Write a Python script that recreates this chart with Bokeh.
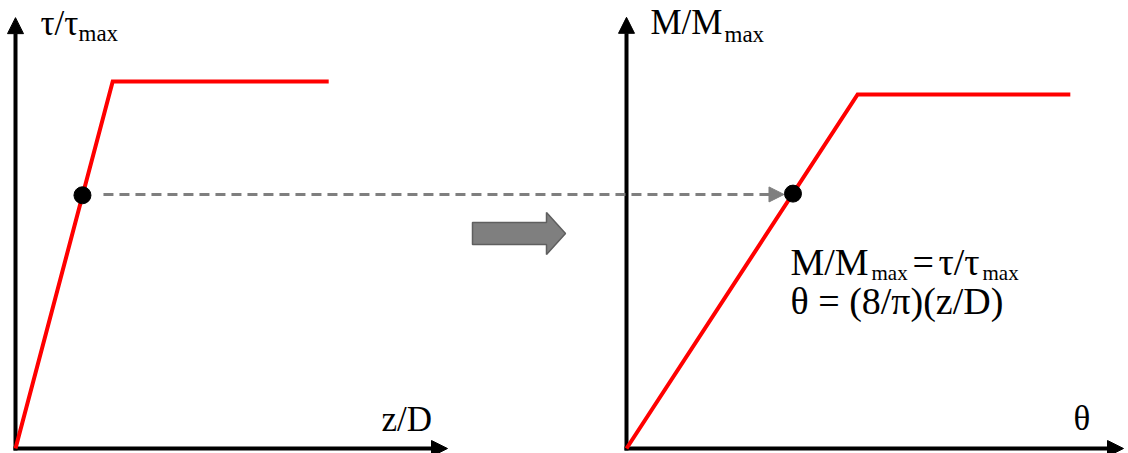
from bokeh.plotting import figure
from bokeh.models import Range1d, Arrow, NormalHead, ColumnDataSource
from bokeh.core.properties import value
from bokeh.embed import file_html
from bokeh.resources import INLINE

# ---- data -------------------------------------------------------------
# shear stress vs. normalised depth (left panel)
z_over_d = [0.0, 0.225, 0.725]
tau_ratio = [0.0, 1.0, 1.0]
# moment vs. rotation (right panel)
theta = [0.0, 0.465, 0.893]
m_ratio = [0.0, 1.0, 1.0]
# the marked point on each curve
z_over_d_pt = [0.155]
tau_ratio_pt = [0.69]
theta_pt = [0.335]
m_ratio_pt = [0.72]
# axis extents
z_axis_max, tau_axis_max = 1.0, 1.174
theta_axis_max, m_axis_max = 1.0, 1.218

# ---- layout -----------------------------------------------------------
W, H = 1128, 453
FONT = "Liberation Serif"
# panel origins (px from left / top) and pixels per data unit
L_OX, L_OY, L_SX, L_SY = 15, 448, 432, 367
R_OX, R_OY, R_SX, R_SY = 626, 448, 497, 354


def xr(ox, sx):
    return Range1d(-ox / sx, (W - ox) / sx)


def yr(oy, sy):
    return Range1d((oy - H) / sy, oy / sy)


def left_px(x, y):
    return L_OX + x * L_SX, L_OY - y * L_SY


def right_px(x, y):
    return R_OX + x * R_SX, R_OY - y * R_SY


p = figure(width=W, height=H, output_backend="svg", toolbar_location=None,
           x_axis_location=None, y_axis_location=None, min_border=0,
           outline_line_color=None, x_range=xr(L_OX, L_SX), y_range=yr(L_OY, L_SY))
p.grid.visible = False
p.background_fill_color = "white"
p.border_fill_color = "white"
p.extra_x_ranges = {"right": xr(R_OX, R_SX), "page": Range1d(0, W)}
p.extra_y_ranges = {"right": yr(R_OY, R_SY), "page": Range1d(H, 0)}


def axis_arrow(x0, y0, x1, y1, rname="default"):
    a = Arrow(end=NormalHead(size=16, fill_color="black", line_color="black", line_width=1),
              x_start=x0, y_start=y0, x_end=x1, y_end=y1,
              line_color="black", line_width=4, level="underlay",
              x_range_name=rname, y_range_name=rname)
    p.add_layout(a)


# axes with arrow heads
axis_arrow(-2 / L_SX, 0, z_axis_max, 0)
axis_arrow(0, -2 / L_SY, 0, tau_axis_max)
axis_arrow(-2 / R_SX, 0, theta_axis_max, 0, "right")
axis_arrow(0, -2 / R_SY, 0, m_axis_max, "right")

# dashed connector between the two marked points
lx, ly = left_px(z_over_d_pt[0], tau_ratio_pt[0])
rx, ry = right_px(theta_pt[0], m_ratio_pt[0])
p.add_layout(Arrow(end=NormalHead(size=15, fill_color="#7f7f7f", line_color="#7f7f7f", line_width=1),
                   x_start=lx + 21, y_start=(ly + ry) / 2, x_end=rx - 9, y_end=(ly + ry) / 2,
                   line_color="#7f7f7f", line_width=3, line_dash="10 6",
                   x_range_name="page", y_range_name="page"))

# block arrow between panels
p.patch([472, 546, 546, 565, 546, 546, 472], [222, 222, 212, 233, 254, 244, 244],
        fill_color="#7f7f7f", line_color="#5f5f5f", line_width=1.5,
        x_range_name="page", y_range_name="page")

# curves
p.line(z_over_d, tau_ratio, line_color="#ff0000", line_width=4, line_join="miter")
p.line(theta, m_ratio, line_color="#ff0000", line_width=4, line_join="miter",
       x_range_name="right", y_range_name="right")

# marked points
p.scatter(z_over_d_pt, tau_ratio_pt, size=17, fill_color="black", line_color="black")
p.scatter(theta_pt, m_ratio_pt, size=17, fill_color="black", line_color="black",
          x_range_name="right", y_range_name="right")

# ---- text (main runs and subscript runs) ------------------------------
def add_text(xs, ys, texts, size):
    src = ColumnDataSource(dict(x=xs, y=ys, t=texts))
    p.text("x", "y", text="t", source=src, text_font=value(FONT),
           text_font_size=value(size), text_color="black",
           text_baseline="alphabetic", text_align="left",
           x_range_name="page", y_range_name="page")


# axis titles
add_text([40, 650, 381, 1073], [23, 22, 419, 418], ["τ/τ", "M/M", "z/D", "θ"], "35px")
add_text([78, 724], [33, 34], ["max", "max"], "23px")
# relation note
add_text([790, 912, 938, 790], [261, 261, 261, 300],
         ["M/M", "=", "τ/τ", "θ = (8/π)(z/D)"], "38px")
add_text([871, 982], [272, 272], ["max", "max"], "21px")

open("out.html", "w").write(file_html(p, INLINE))
